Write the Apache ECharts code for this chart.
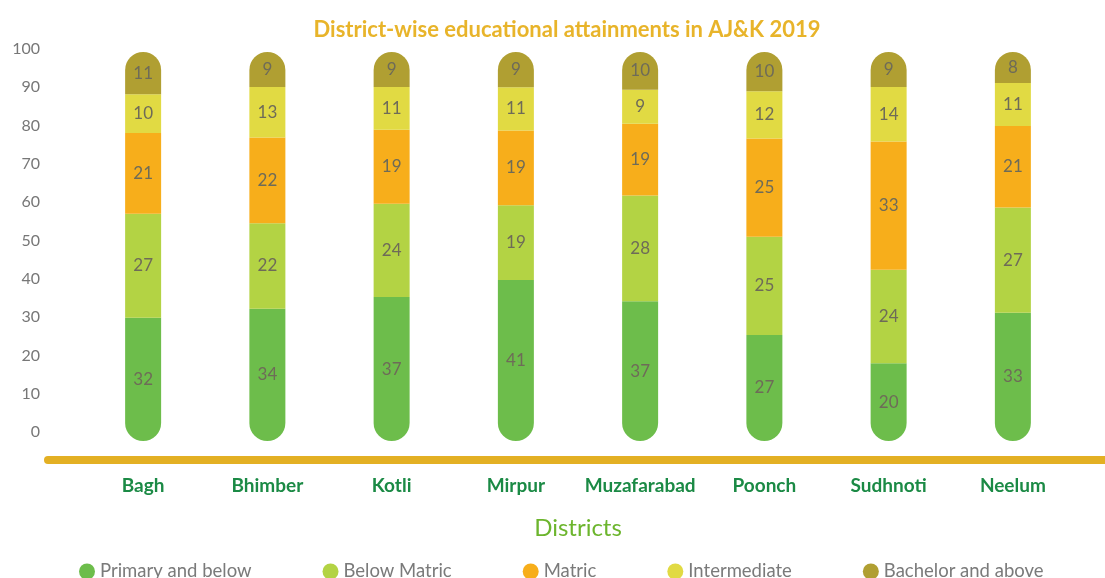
<!DOCTYPE html>
<html>
<head>
<meta charset="utf-8">
<script src="https://cdn.jsdelivr.net/npm/echarts@6/dist/echarts.min.js"></script>
<style>
  html, body { margin: 0; padding: 0; background: #fff; }
  #chart { width: 1105px; height: 578px; }
</style>
</head>
<body>
<div id="chart"></div>
<script>
// districts and attainment shares (%)
const districts = ["Bagh", "Bhimber", "Kotli", "Mirpur", "Muzafarabad", "Poonch", "Sudhnoti", "Neelum"];
const primaryAndBelow = [32, 34, 37, 41, 37, 27, 20, 33];
const belowMatric = [27, 22, 24, 19, 28, 25, 24, 27];
const matric = [21, 22, 19, 19, 19, 25, 33, 21];
const intermediate = [10, 13, 11, 11, 9, 12, 14, 11];
const bachelorAndAbove = [11, 9, 9, 9, 10, 10, 9, 8];
const yTicks = [0, 10, 20, 30, 40, 50, 60, 70, 80, 90, 100];

const groups = [
  { name: "Primary and below", values: primaryAndBelow, color: "#6dbd4b" },
  { name: "Below Matric", values: belowMatric, color: "#b3d344" },
  { name: "Matric", values: matric, color: "#f7ae1b" },
  { name: "Intermediate", values: intermediate, color: "#e1da43" },
  { name: "Bachelor and above", values: bachelorAndAbove, color: "#b09f32" }
];

// every bar is drawn as a full pill, so scale each district to its own total
const totals = districts.map((_, i) => groups.reduce((s, g) => s + g.values[i], 0));

const chart = echarts.init(document.getElementById("chart"));

const series = groups.map((g, k) => {
  let radius = 0;
  if (k === 0) radius = [0, 0, 18, 18];
  if (k === groups.length - 1) radius = [18, 18, 0, 0];
  return {
    name: g.name,
    type: "bar",
    stack: "all",
    xAxisIndex: 1,
    yAxisIndex: 1,
    barWidth: 36,
    itemStyle: { color: g.color, borderRadius: radius },
    label: {
      show: true,
      position: "inside",
      color: "#6e6b58",
      fontSize: 17,
      fontFamily: "Lato",
      formatter: (p) => g.values[p.dataIndex]
    },
    data: g.values.map((v, i) => ({ value: v / totals[i] * 100 }))
  };
});

const option = {
  animation: false,
  title: {
    text: "District-wise educational attainments in AJ&K 2019",
    left: 562,
    textAlign: "center",
    top: 14,
    textStyle: { color: "#e8b42a", fontSize: 22, fontWeight: "bold", fontFamily: "Lato" }
  },
  legend: {
    left: 74,
    top: 557,
    icon: "circle",
    itemWidth: 16,
    itemHeight: 16,
    itemGap: 71,
    textStyle: { color: "#7a7a7a", fontSize: 18.5, fontFamily: "Lato" },
    data: groups.map(g => g.name)
  },
  grid: [
    { left: 48, right: 0, top: 49, bottom: 146 },
    { left: 81, right: 30, top: 52, bottom: 137 }
  ],
  xAxis: [
    {
      gridIndex: 0,
      type: "category",
      data: [""],
      offset: 28,
      axisLine: { onZero: false, lineStyle: { color: "#e3b024", width: 8 } },
      axisTick: { show: false },
      axisLabel: { show: false }
    },
    {
      gridIndex: 1,
      type: "category",
      data: districts,
      axisLine: { show: false },
      axisTick: { show: false },
      axisLabel: { interval: 0, color: "#1b8a45", fontSize: 19, fontWeight: "bold", fontFamily: "Lato", margin: 35 },
      name: "Districts",
      nameLocation: "middle",
      nameGap: 75,
      nameTextStyle: { color: "#6cb52d", fontSize: 24, fontFamily: "Lato" }
    }
  ],
  yAxis: [
    {
      gridIndex: 0,
      type: "value",
      min: yTicks[0],
      max: yTicks[yTicks.length - 1],
      interval: 10,
      axisLine: { show: false },
      axisTick: { show: false },
      splitLine: { show: false },
      axisLabel: { color: "#777", fontSize: 16, fontFamily: "Lato", margin: 8 }
    },
    {
      gridIndex: 1,
      type: "value",
      min: 0,
      max: 100,
      show: false
    }
  ],
  series: series
};

chart.setOption(option);
</script>
</body>
</html>
